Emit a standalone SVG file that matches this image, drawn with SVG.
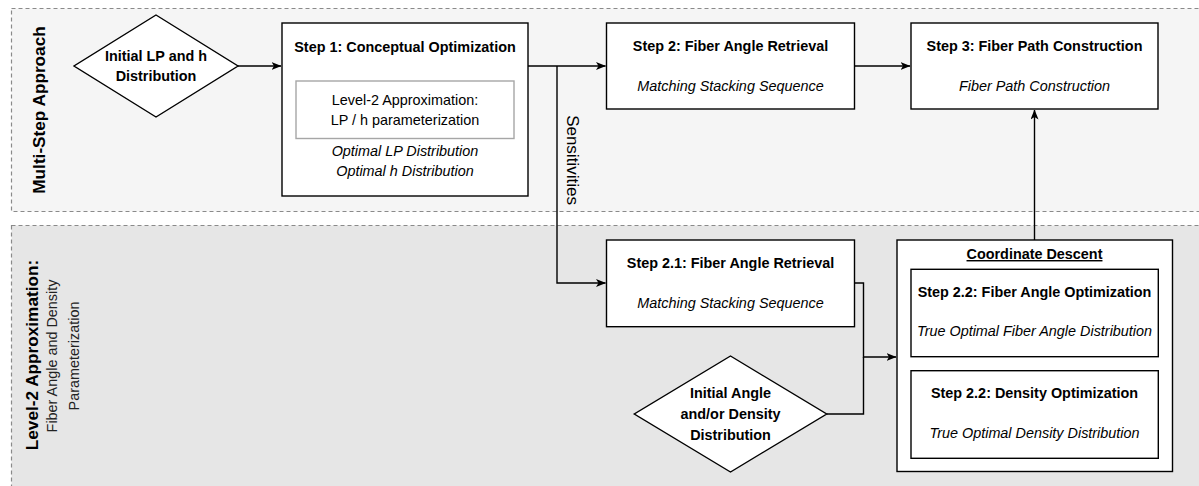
<svg xmlns="http://www.w3.org/2000/svg" width="1199" height="486" viewBox="0 0 1199 486">
  <style>
    text { font-family: "Liberation Sans", Arial, Helvetica, sans-serif; fill: #000; }
    .band { stroke: #8a8a8a; stroke-width: 1.2; stroke-dasharray: 4 3; }
    .box { fill: #fff; stroke: #000; stroke-width: 1.4; }
    .sub { fill: #fff; stroke: #a6a6a6; stroke-width: 1.4; }
    .t { font-size: 14.4px; font-weight: bold; text-anchor: middle; }
    .n { font-size: 14.4px; text-anchor: middle; }
    .i { font-size: 14.4px; font-style: italic; text-anchor: middle; }
    .lane { font-size: 17.2px; font-weight: bold; text-anchor: middle; }
    .edge { fill: none; stroke: #000; stroke-width: 1.4; }
  </style>
  <defs>
    <marker id="arrow" viewBox="0 0 10 8" refX="9.5" refY="4" markerWidth="10" markerHeight="8" markerUnits="userSpaceOnUse" orient="auto">
      <path d="M0,0 L10,4 L0,8 L2.5,4 Z" fill="#000"/>
    </marker>
  </defs>

  <!-- swimlanes -->
  <g id="lane-multistep">
    <rect class="band" x="11.5" y="8.5" width="1200" height="203" fill="#f5f5f5"/>
    <text class="lane" transform="translate(45,110) rotate(-90)">Multi-Step Approach</text>
  </g>
  <g id="lane-level2">
    <rect class="band" x="11.5" y="225.5" width="1200" height="272" fill="#e6e6e6"/>
    <text class="lane" transform="translate(38,355) rotate(-90)">Level-2 Approximation:</text>
    <text class="n" style="fill:#222" transform="translate(57,356) rotate(-90)">Fiber Angle and Density</text>
    <text class="n" style="fill:#222" transform="translate(79,356) rotate(-90)">Parameterization</text>
  </g>

  <!-- connectors -->
  <g id="connectors">
    <path class="edge" d="M238,66 L281,66" marker-end="url(#arrow)"/>
    <path class="edge" d="M528,66 L605.5,66" marker-end="url(#arrow)"/>
    <path class="edge" d="M557,66 L557,283 L605.5,283" marker-end="url(#arrow)"/>
    <path class="edge" d="M854.5,66 L910,66" marker-end="url(#arrow)"/>
    <path class="edge" d="M1034.5,240 L1034.5,110" marker-end="url(#arrow)"/>
    <path class="edge" d="M854.5,283 L863.5,283 L863.5,357 L896,357" marker-end="url(#arrow)"/>
    <path class="edge" d="M826.7,414 L863.5,414 L863.5,357"/>
    <text style="font-size:17px" text-anchor="middle" transform="translate(567,160) rotate(90)">Sensitivities</text>
  </g>

  <!-- start: initial LP and h -->
  <g id="initial-lp">
    <polygon class="box" points="156,15 238,66 156,117 74,66"/>
    <text class="t" x="156" y="61">Initial LP and h</text>
    <text class="t" x="156" y="81">Distribution</text>
  </g>

  <!-- step 1 -->
  <g id="step1">
    <rect class="box" x="282" y="23" width="246" height="173"/>
    <text class="t" x="405" y="52">Step 1: Conceptual Optimization</text>
    <rect class="sub" x="296" y="81" width="218" height="57.5"/>
    <text class="n" x="405" y="104.5">Level-2 Approximation:</text>
    <text class="n" x="405" y="124.5">LP / h parameterization</text>
    <text class="i" x="405" y="156.3">Optimal LP Distribution</text>
    <text class="i" x="405" y="176.3">Optimal h Distribution</text>
  </g>

  <!-- step 2 -->
  <g id="step2">
    <rect class="box" x="606.5" y="23" width="248" height="86"/>
    <text class="t" x="730.5" y="51">Step 2: Fiber Angle Retrieval</text>
    <text class="i" x="730.5" y="91">Matching Stacking Sequence</text>
  </g>

  <!-- step 3 -->
  <g id="step3">
    <rect class="box" x="911" y="23" width="247" height="86"/>
    <text class="t" x="1034.5" y="51">Step 3: Fiber Path Construction</text>
    <text class="i" x="1034.5" y="91">Fiber Path Construction</text>
  </g>

  <!-- step 2.1 -->
  <g id="step2-1">
    <rect class="box" x="606.5" y="240" width="248" height="86.7"/>
    <text class="t" x="730.5" y="268">Step 2.1: Fiber Angle Retrieval</text>
    <text class="i" x="730.5" y="308">Matching Stacking Sequence</text>
  </g>

  <!-- start: initial angle / density -->
  <g id="initial-angle">
    <polygon class="box" points="730.5,356 826.7,414 730.5,472 634.3,414"/>
    <text class="t" x="730.5" y="398">Initial Angle</text>
    <text class="t" x="730.5" y="419">and/or Density</text>
    <text class="t" x="730.5" y="440">Distribution</text>
  </g>

  <!-- coordinate descent container -->
  <g id="coordinate-descent">
    <rect class="box" x="897" y="240" width="275.5" height="231.5"/>
    <text class="t" x="1034.5" y="259" text-decoration="underline">Coordinate Descent</text>
  </g>
  <g id="step2-2-angle">
    <rect class="box" x="911" y="269.3" width="247.3" height="87.4"/>
    <text class="t" x="1034.5" y="296.7">Step 2.2: Fiber Angle Optimization</text>
    <text class="i" x="1034.5" y="336">True Optimal Fiber Angle Distribution</text>
  </g>
  <g id="step2-2-density">
    <rect class="box" x="911" y="370.7" width="247.3" height="87.6"/>
    <text class="t" x="1034.5" y="398.3">Step 2.2: Density Optimization</text>
    <text class="i" x="1034.5" y="438.3">True Optimal Density Distribution</text>
  </g>
</svg>
